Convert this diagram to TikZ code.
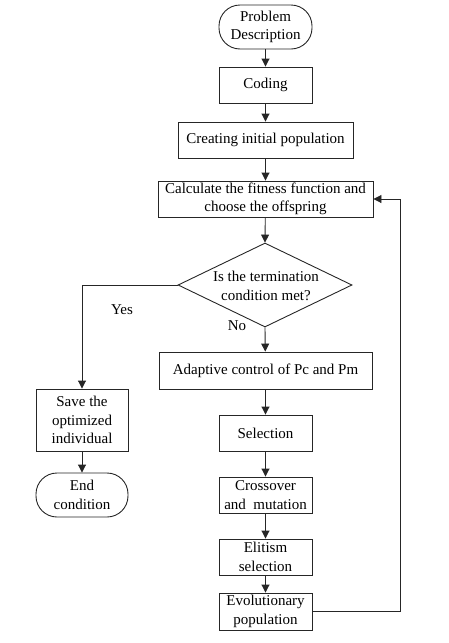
\documentclass[tikz,border=0pt]{standalone}
\usepackage{fontspec}
\setmainfont{Liberation Serif}
\usetikzlibrary{arrows.meta,shapes.geometric}
\begin{document}
\begin{tikzpicture}[x=1pt,y=-1pt,
  every node/.style={font=\fontsize{15}{18.3}\selectfont, align=center, inner sep=0pt},
  box/.style={draw=black!85, line width=0.9pt, minimum height=36pt},
  term/.style={draw=black!85, line width=0.9pt, rounded corners=21pt, minimum width=93pt, minimum height=44pt},
  dec/.style={draw=black!85, line width=0.9pt, diamond, minimum width=174pt, minimum height=84pt},
  arr/.style={draw=black!85, line width=0.9pt, -{Triangle[length=8pt,width=8pt]}},
  lbl/.style={}
]
\path[use as bounding box] (0,0) rectangle (449,643);

\node[term] (pd) at (265.5,27) {Problem\\Description};
\node[box, minimum width=93pt] (coding) at (265.5,85) {Coding};
\node[box, minimum width=175pt] (init) at (265.5,140) {Creating initial population};
\node[box, minimum width=215pt] (calc) at (265.5,199) {Calculate the fitness function and\\choose the offspring};
\node[dec] (dec) at (265,285) {};
\node (dectext) at (266,286) {Is the termination\\condition met?};
\node[box, minimum width=213pt, minimum height=37pt] (adapt) at (265.5,370.5) {Adaptive control of Pc and Pm};
\node[box, minimum width=93pt] (sel) at (265.5,433) {Selection};
\node[box, minimum width=93pt] (cross) at (265.5,495) {Crossover\\and\ \ mutation};
\node[box, minimum width=93pt] (elit) at (265.5,557) {Elitism\\selection};
\node[box, minimum width=93pt, minimum height=37pt] (evol) at (265.5,611.5) {Evolutionary\\population};
\node[box, minimum width=92pt, minimum height=62pt] (save) at (82,420) {Save the\\optimized\\individual};
\node[term, minimum width=92pt] (endc) at (82,495) {End\\condition};

\node[lbl] (yes) at (122,310) {Yes};
\node[lbl] (no) at (237,326) {No};

\coordinate (fb) at (400,611.5);

\draw[arr] (pd) -- (coding);
\draw[arr] (coding) -- (init);
\draw[arr] (init) -- (calc);
\draw[arr] (calc) -- (dec.north);
\draw[arr] (dec.south) -- (adapt);
\draw[arr] (dec.west) -| (save.north);
\draw[arr] (save) -- (endc);
\draw[arr] (adapt) -- (sel);
\draw[arr] (sel) -- (cross);
\draw[arr] (cross) -- (elit);
\draw[arr] (elit) -- (evol);
\draw[arr] (evol.east) -- (fb) |- (calc.east);
\end{tikzpicture}
\end{document}
